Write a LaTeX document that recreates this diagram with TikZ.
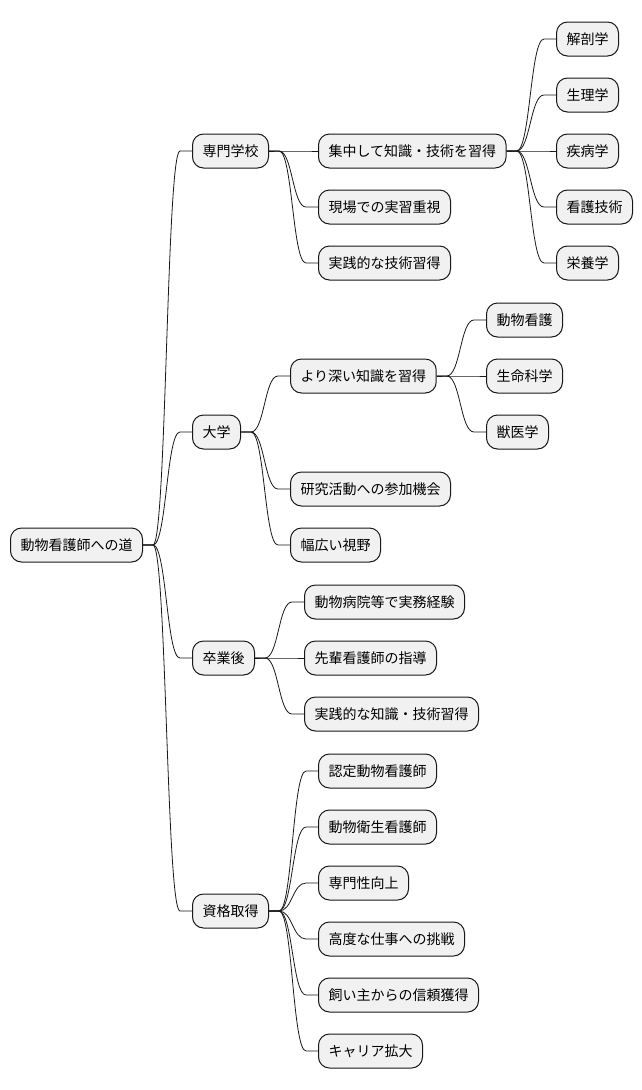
\documentclass[tikz,border=0pt]{standalone}
\usepackage{fontspec}
\setmainfont{Noto Sans CJK JP}
\usetikzlibrary{calc}
\definecolor{topicfill}{HTML}{F1F1F1}
\definecolor{topicline}{HTML}{181818}
\tikzset{
  topic/.style={draw=topicline,line width=1pt,fill=topicfill,rounded corners=11pt,
    minimum height=34pt,inner xsep=10pt,inner ysep=0pt,anchor=west,
    font=\fontsize{14}{16}\selectfont},
  link/.style={draw=topicline,line width=0.8pt}
}
% curved branch from parent to child
\newcommand{\twig}[2]{\draw[link] let \p1=(#1.east), \p2=(#2.west), \n1={(\x2-\x1-22pt)/2} in
  (\p1) -- ++(10pt,0) .. controls +(\n1,0) and +(-\n1,0) .. (\x2-12pt,\y2) -- (\p2);}
\begin{document}
\begin{tikzpicture}[x=1pt,y=-1pt]
\useasboundingbox (0,0) rectangle (642,1090);
\node[topic] (root) at (10,545) {動物看護師への道};
% first level
\node[topic] (school) at (192,151) {専門学校};
\node[topic] (univ) at (192,432) {大学};
\node[topic] (grad) at (192,658) {卒業後};
\node[topic] (cert) at (192,911) {資格取得};
% school
\node[topic] (focus) at (318,151) {集中して知識・技術を習得};
\node[topic] (field) at (318,207) {現場での実習重視};
\node[topic] (skill) at (318,263) {実践的な技術習得};
\node[topic] (anat) at (556,39) {解剖学};
\node[topic] (phys) at (556,95) {生理学};
\node[topic] (path) at (556,151) {疾病学};
\node[topic] (nurs) at (556,207) {看護技術};
\node[topic] (nutr) at (556,263) {栄養学};
% university
\node[topic] (deep) at (290,376) {より深い知識を習得};
\node[topic] (research) at (290,489) {研究活動への参加機会};
\node[topic] (wide) at (290,545) {幅広い視野};
\node[topic] (animal) at (486,320) {動物看護};
\node[topic] (life) at (486,376) {生命科学};
\node[topic] (vet) at (486,432) {獣医学};
% after graduation
\node[topic] (clinic) at (304,602) {動物病院等で実務経験};
\node[topic] (senior) at (304,658) {先輩看護師の指導};
\node[topic] (know) at (304,714) {実践的な知識・技術習得};
% certification
\node[topic] (c1) at (318,771) {認定動物看護師};
\node[topic] (c2) at (318,827) {動物衛生看護師};
\node[topic] (c3) at (318,883) {専門性向上};
\node[topic] (c4) at (318,939) {高度な仕事への挑戦};
\node[topic] (c5) at (318,995) {飼い主からの信頼獲得};
\node[topic] (c6) at (318,1051) {キャリア拡大};
% branches
\foreach \c in {school,univ,grad,cert} {\twig{root}{\c}}
\foreach \c in {focus,field,skill} {\twig{school}{\c}}
\foreach \c in {anat,phys,path,nurs,nutr} {\twig{focus}{\c}}
\foreach \c in {deep,research,wide} {\twig{univ}{\c}}
\foreach \c in {animal,life,vet} {\twig{deep}{\c}}
\foreach \c in {clinic,senior,know} {\twig{grad}{\c}}
\foreach \c in {c1,c2,c3,c4,c5,c6} {\twig{cert}{\c}}
\end{tikzpicture}
\end{document}
